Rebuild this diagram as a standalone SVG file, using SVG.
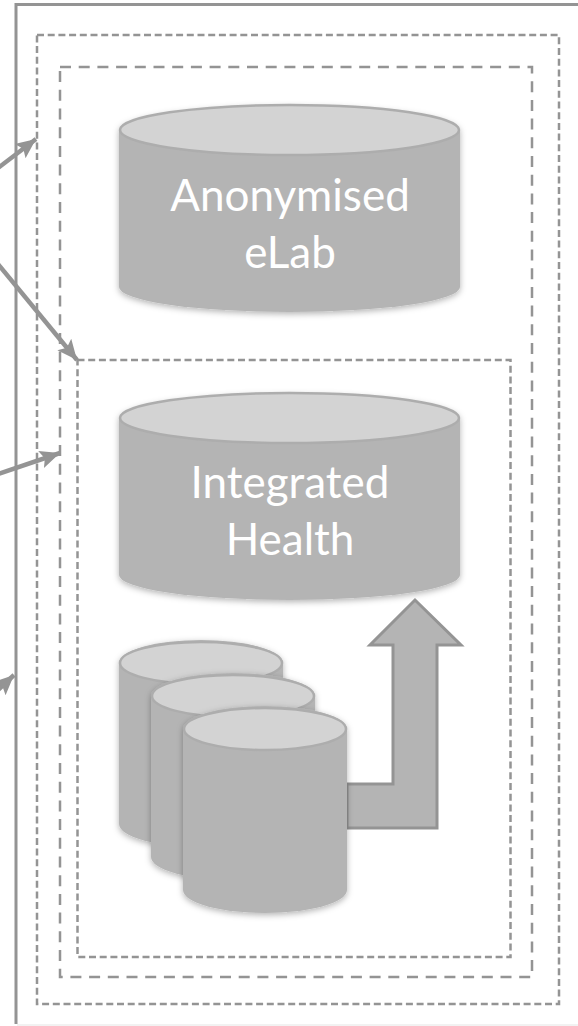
<svg xmlns="http://www.w3.org/2000/svg" width="578" height="1026" viewBox="0 0 578 1026">
<style>
.d{fill:none;stroke:#949494;stroke-width:2.500}
.body{fill:#b4b4b4;filter:url(#s)}
.top{fill:#d3d3d3;stroke:#adadad;stroke-width:2.500}
.t{font-family:Lato,"Open Sans",sans-serif;font-size:44px;fill:#fff;text-anchor:middle}
.c{stroke:#949494;stroke-width:4.500;fill:none;marker-end:url(#a)}
</style>
<defs>
<filter id="s" x="-10%" y="-10%" width="120%" height="120%"><feDropShadow dx="0" dy="2" stdDeviation="3" flood-color="#000" flood-opacity=".3"/></filter>
<marker id="a" markerUnits="userSpaceOnUse" markerWidth="22" markerHeight="22" refX="20" refY="11" orient="auto"><path d="M0 2L20 11L0 20L4 11Z" fill="#949494"/></marker>
</defs>
<rect width="578" height="1026" fill="#fff"/>
<g id="frame"><path d="M578 4.500H16V1024" fill="none" stroke="#949494" stroke-width="3"/><path d="M17 1025H578" stroke="#eee" stroke-width="1.500"/></g>
<g id="zone-outer"><rect x="37" y="35" width="522" height="969" class="d" style="stroke-dasharray:7 3.700"/></g>
<g id="zone-middle"><rect x="60" y="67" width="472" height="910" class="d" style="stroke-dasharray:11 7.700"/></g>
<g id="zone-inner"><rect x="77.500" y="360" width="433" height="597" class="d" style="stroke-dasharray:7 3.700"/></g>
<g id="anonymised-elab">
<path class="body" d="M119 130A170.500 25 0 0 1 460 130V287A170.500 25 0 0 1 119 287Z"/>
<ellipse class="top" cx="289.500" cy="130" rx="169.500" ry="25"/>
<text class="t" x="290" y="211">Anonymised</text><text class="t" x="290" y="268">eLab</text>
</g>
<g id="integrated-health">
<path class="body" d="M119 418A170.500 25 0 0 1 460 418V575A170.500 25 0 0 1 119 575Z"/>
<ellipse class="top" cx="289.500" cy="418" rx="169.500" ry="25"/>
<text class="t" x="290" y="498">Integrated</text><text class="t" x="290" y="555">Health</text>
</g>
<g id="bent-arrow"><path d="M347 784H393V645H370L415 600L461 645H437V828H347Z" fill="#b4b4b4" stroke="#949494" stroke-width="3"/></g>
<g id="source-1">
<path class="body" d="M119 663A82 23 0 0 1 283 663V824A82 23 0 0 1 119 824Z"/>
<ellipse class="top" cx="201" cy="663" rx="81" ry="21"/>
</g>
<g id="source-2">
<path class="body" d="M151 696A82 23 0 0 1 315 696V857A82 23 0 0 1 151 857Z"/>
<ellipse class="top" cx="233" cy="696" rx="81" ry="21"/>
</g>
<g id="source-3">
<path class="body" d="M183 729A82 23 0 0 1 347 729V890A82 23 0 0 1 183 890Z"/>
<ellipse class="top" cx="265" cy="729" rx="81" ry="21"/>
</g>
<g id="connectors">
<path class="c" d="M-2 168L36 139"/>
<path class="c" d="M-2 264L77 360"/>
<path class="c" d="M-2 474L60 453"/>
<path class="c" d="M-2 690L14 675"/>
</g>
</svg>
